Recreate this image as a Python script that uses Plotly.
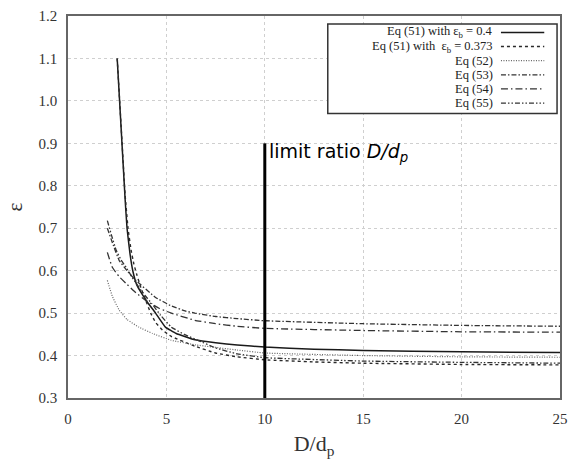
import plotly.graph_objects as go

# ---- data ----
x_eq51_a = [2.5, 2.7, 2.9, 3.0, 3.15, 3.3, 3.5, 3.75, 4.0, 4.45, 4.95, 5.5, 6.45, 7.5, 8.6, 10, 12.5, 15, 20, 25]
y_eq51_a = [1.10, 0.935, 0.77, 0.70, 0.64, 0.598, 0.566, 0.546, 0.528, 0.50, 0.467, 0.452, 0.437, 0.43, 0.425, 0.42, 0.415, 0.412, 0.409, 0.407]

x_eq51_b = [2.5, 2.7, 2.9, 3.05, 3.2, 3.35, 3.5, 3.7, 3.95, 4.2, 4.45, 4.8, 5.25, 6.45, 7.5, 8.6, 10, 12.5, 15, 20, 25]
y_eq51_b = [1.10, 0.94, 0.78, 0.70, 0.65, 0.615, 0.59, 0.56, 0.53, 0.50, 0.478, 0.46, 0.445, 0.422, 0.406, 0.397, 0.39, 0.385, 0.382, 0.379, 0.378]

x_eq52 = [2.0, 2.25, 2.6, 3.0, 3.6, 4.3, 5.25, 6.5, 8.6, 10, 15, 20, 25]
y_eq52 = [0.577, 0.54, 0.507, 0.485, 0.467, 0.452, 0.436, 0.425, 0.413, 0.406, 0.400, 0.397, 0.396]

x_eq53 = [2.0, 2.3, 2.6, 3.0, 3.45, 4.45, 5.2, 5.95, 6.45, 7.5, 8.6, 10, 15, 20, 25]
y_eq53 = [0.70, 0.66, 0.624, 0.60, 0.577, 0.537, 0.518, 0.505, 0.50, 0.492, 0.487, 0.482, 0.475, 0.471, 0.469]

x_eq54 = [2.0, 2.25, 2.6, 2.95, 3.45, 3.95, 4.6, 5.25, 6.45, 7.5, 8.6, 10, 15, 20, 25]
y_eq54 = [0.643, 0.608, 0.586, 0.57, 0.548, 0.53, 0.512, 0.50, 0.483, 0.475, 0.469, 0.464, 0.459, 0.456, 0.455]

x_eq55 = [2.0, 2.2, 2.45, 2.7, 2.95, 3.25, 3.6, 3.9, 4.25, 4.7, 5.25, 5.9, 6.6, 7.5, 8.6, 10, 15, 20, 25]
y_eq55 = [0.718, 0.685, 0.648, 0.625, 0.608, 0.585, 0.561, 0.542, 0.523, 0.495, 0.467, 0.45, 0.436, 0.418, 0.404, 0.395, 0.387, 0.384, 0.382]

limit_ratio = 10
limit_y = [0.3, 0.9]

x_ticks = [0, 5, 10, 15, 20, 25]
y_ticks = [0.3, 0.4, 0.5, 0.6, 0.7, 0.8, 0.9, 1.0, 1.1, 1.2]

legend_labels = ["Eq (51) with ε<sub>b</sub> = 0.4", "Eq (51) with  ε<sub>b</sub> = 0.373",
                 "Eq (52)", "Eq (53)", "Eq (54)", "Eq (55)"]

# ---- styles ----
styles = [
    dict(color="#1a1a1a", width=1.5, dash="solid"),
    dict(color="#2a2a2a", width=1.4, dash="3px,3px"),
    dict(color="#666666", width=1.2, dash="1px,1.5px"),
    dict(color="#333333", width=1.3, dash="5px,2px,1.5px,2px"),
    dict(color="#333333", width=1.3, dash="7px,3px,1.5px,3px"),
    dict(color="#333333", width=1.3, dash="5px,2px,1.5px,2px,1.5px,2px"),
]
series = [(x_eq51_a, y_eq51_a), (x_eq51_b, y_eq51_b), (x_eq52, y_eq52),
          (x_eq53, y_eq53), (x_eq54, y_eq54), (x_eq55, y_eq55)]

fig = go.Figure()
for (xs, ys), st, name in zip(series, styles, legend_labels):
    fig.add_trace(go.Scatter(x=xs, y=ys, mode="lines", name=name,
                             line=dict(color=st["color"], width=st["width"], dash=st["dash"],
                                       shape="spline", smoothing=0.3),
                             showlegend=False))

fig.add_trace(go.Scatter(x=[limit_ratio, limit_ratio], y=limit_y, mode="lines",
                         line=dict(color="black", width=3), showlegend=False))

fig.add_annotation(x=limit_ratio, y=limit_y[1], xref="x", yref="y", xanchor="left", yanchor="top",
                   xshift=2, yshift=5, showarrow=False,
                   text="limit ratio <i>D/d<sub>p</sub></i>",
                   font=dict(family="DejaVu Sans", size=19, color="black"))

# custom legend (text right, sample on the right)
lx0, lx1, ly0, ly1 = 0.528, 0.994, 0.745, 0.979
fig.add_shape(type="rect", xref="x domain", yref="y domain", x0=lx0, x1=lx1, y0=ly0, y1=ly1,
              line=dict(color="#333", width=1.5), fillcolor="white", layer="above")
row_top = 0.957
row_step = 14.2 / 384
for i, (lab, st) in enumerate(zip(legend_labels, styles)):
    yy = row_top - i * row_step
    fig.add_annotation(x=0.868, y=yy, xref="x domain", yref="y domain", xanchor="right",
                       yanchor="middle", showarrow=False, text=lab,
                       font=dict(family="Liberation Serif", size=12.5, color="#222"))
    fig.add_shape(type="line", xref="x domain", yref="y domain", x0=0.88, x1=0.968, y0=yy, y1=yy,
                  line=dict(color=st["color"], width=st["width"], dash=st["dash"]), layer="above")

axis_common = dict(showline=True, linecolor="#666", linewidth=1.5, mirror=True,
                   showgrid=True, gridcolor="#cfcfcf", griddash="dot", gridwidth=1,
                   zeroline=False, ticks="", ticklabelstandoff=6,
                   tickfont=dict(family="Liberation Serif", size=15, color="#333"))

fig.update_xaxes(range=[0, 25], tickvals=x_ticks, **axis_common,
                 title=dict(text="D/d<sub>p</sub>", font=dict(family="Liberation Serif", size=22, color="#333"),
                            standoff=10))
fig.update_yaxes(range=[0.3, 1.2], tickvals=y_ticks, tickformat=".1f", **axis_common,
                 title=dict(text="ε", font=dict(family="Liberation Serif", size=21, color="#333"),
                            standoff=10))

fig.update_layout(width=576, height=461, margin=dict(l=68, r=8, t=14, b=63),
                  plot_bgcolor="white", paper_bgcolor="white")

fig.write_html("out.html")
